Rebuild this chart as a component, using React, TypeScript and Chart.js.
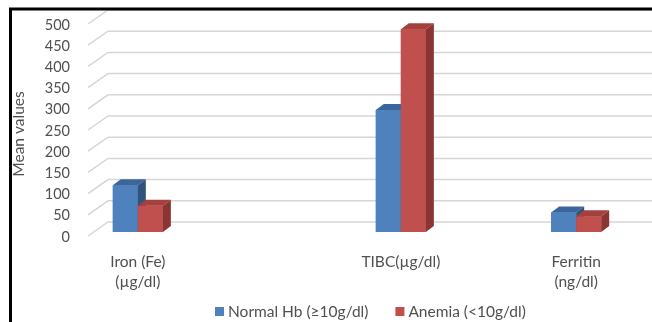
import React, { useEffect, useRef } from "react";
import { Chart, registerables } from "chart.js";

Chart.register(...registerables);

const categories: (string | string[])[] = [
  ["Iron (Fe)", "(µg/dl)"],
  "",
  "",
  "TIBC(µg/dl)",
  "",
  ["Ferritin", "(ng/dl)"],
];
const normalValues: (number | null)[] = [110, null, null, 288, null, 46];
const anemiaValues: (number | null)[] = [62, null, null, 478, null, 37];
const yTicks: number[] = [0, 50, 100, 150, 200, 250, 300, 350, 400, 450, 500];
const seriesNames = ["Normal Hb (≥10g/dl)", "Anemia (<10g/dl)"];

const FRONT = ["#4F81BD", "#C0504D"];
const TOP = ["#3B669C", "#A5403D"];
const SIDE = ["#31547F", "#8A3533"];
const FONT = "Lato, 'Open Sans', sans-serif";
const TEXT = "#505050";
const LABEL_SIZE = 15.5;

const DX = 8;
const DY = 6;

const wallPlugin = {
  id: "wall",
  beforeDatasetsDraw(chart: any) {
    const ctx = chart.ctx;
    const y = chart.scales.y;
    ctx.save();
    ctx.strokeStyle = "#D6D6D6";
    ctx.lineWidth = 1.5;
    for (const v of yTicks) {
      const p = y.getPixelForValue(v);
      const yb = p - 10;
      const yf = p + 4;
      ctx.beginPath();
      ctx.moveTo(88, yf);
      ctx.lineTo(108, yb);
      ctx.lineTo(chart.width, yb);
      ctx.stroke();
    }
    // tick labels
    ctx.fillStyle = TEXT;
    ctx.font = `14.5px ${FONT}`;
    ctx.textAlign = "right";
    ctx.textBaseline = "middle";
    for (const v of yTicks) {
      const p = y.getPixelForValue(v);
      ctx.fillText(String(v), 70, p + 5);
    }
    // axis title
    ctx.font = `${LABEL_SIZE}px ${FONT}`;
    ctx.save();
    ctx.translate(19, 134);
    ctx.rotate(-Math.PI / 2);
    ctx.textAlign = "center";
    ctx.fillText("Mean values", 0, 0);
    ctx.restore();
    // frame
    ctx.strokeStyle = "#000";
    ctx.lineWidth = 3;
    ctx.beginPath();
    ctx.moveTo(chart.width, 9);
    ctx.lineTo(10.5, 9);
    ctx.lineTo(10.5, chart.height);
    ctx.stroke();
    ctx.restore();
  },
  afterDatasetsDraw(chart: any) {
    const ctx = chart.ctx;
    const metas = [chart.getDatasetMeta(0), chart.getDatasetMeta(1)];
    ctx.save();
    for (let i = 0; i < categories.length; i++) {
      for (let d = 0; d < 2; d++) {
        const el = metas[d].data[i];
        const val = chart.data.datasets[d].data[i];
        if (!el || val == null) continue;
        const { x, y, base, width } = el.getProps(["x", "y", "base", "width"], true);
        const l = x - width / 2;
        const r = x + width / 2;
        ctx.fillStyle = FRONT[d];
        ctx.fillRect(l, y, width, base - y);
        ctx.fillStyle = TOP[d];
        ctx.beginPath();
        ctx.moveTo(l, y);
        ctx.lineTo(l + DX, y - DY);
        ctx.lineTo(r + DX, y - DY);
        ctx.lineTo(r, y);
        ctx.closePath();
        ctx.fill();
        ctx.fillStyle = SIDE[d];
        ctx.beginPath();
        ctx.moveTo(r, y);
        ctx.lineTo(r + DX, y - DY);
        ctx.lineTo(r + DX, base - DY);
        ctx.lineTo(r, base);
        ctx.closePath();
        ctx.fill();
      }
    }
    ctx.restore();
  },
  afterDraw(chart: any) {
    const ctx = chart.ctx;
    ctx.save();
    ctx.font = `${LABEL_SIZE}px ${FONT}`;
    ctx.textBaseline = "middle";
    ctx.textAlign = "left";
    let x = 215;
    const yc = 311.5;
    chart.data.datasets.forEach((ds: any, d: number) => {
      ctx.fillStyle = FRONT[d];
      ctx.fillRect(x, yc - 4.5, 9, 9);
      ctx.fillStyle = TEXT;
      ctx.fillText(ds.label, x + 13, yc);
      x += 13 + ctx.measureText(ds.label).width + 27;
    });
    ctx.restore();
  },
};

export default function App() {
  const ref = useRef<HTMLCanvasElement>(null);
  useEffect(() => {
    if (!ref.current) return;
    const chart = new Chart(ref.current, {
      type: "bar",
      data: {
        labels: categories,
        datasets: [
          { label: seriesNames[0], data: normalValues, backgroundColor: FRONT[0] },
          { label: seriesNames[1], data: anemiaValues, backgroundColor: FRONT[1] },
        ],
      },
      options: {
        animation: false,
        responsive: false,
        maintainAspectRatio: false,
        categoryPercentage: 0.571,
        barPercentage: 1,
        layout: { padding: { left: 94, right: 32, top: 20, bottom: 18 } },
        scales: {
          y: {
            display: false,
            min: 0,
            max: 500,
          },
          x: {
            grid: { display: false },
            border: { display: false },
            ticks: {
              autoSkip: false,
              maxRotation: 0,
              padding: 12,
              color: TEXT,
              font: { family: FONT, size: LABEL_SIZE, lineHeight: 20 / LABEL_SIZE },
            },
          },
        },
        plugins: {
          tooltip: { enabled: false },
          legend: { display: false },
        },
      },
      plugins: [wallPlugin],
    });
    return () => chart.destroy();
  }, []);
  return (
    <div style={{ position: "absolute", left: 0, top: 0, width: 652, height: 322, background: "#fff" }}>
      <canvas ref={ref} width={652} height={322} style={{ display: "block" }} />
    </div>
  );
}
